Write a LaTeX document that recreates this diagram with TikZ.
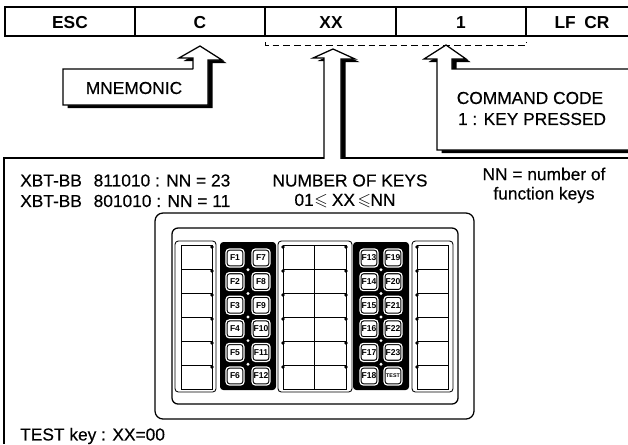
\documentclass[tikz,border=0pt]{standalone}
\usepackage{amsmath, amssymb}
\usepackage{fontspec}
\setmainfont{Liberation Sans}
\newfontfamily\scanfont[FakeBold=0.35]{Liberation Sans}
\usepackage{tikz}
\usetikzlibrary{calc, positioning}
\tikzset{
  frameline/.style={line width=0.95pt, black},
  panelline/.style={line width=0.65pt, black},
  cmdtext/.style={font=\fontsize{13}{15}\selectfont\bfseries, inner sep=0pt},
  plaintext/.style={font=\fontsize{13}{14}\selectfont\scanfont, inner sep=0pt},
  fkey/.style={draw=black, line width=0.8pt, double=white, double distance=0.9pt, fill=white,
    rounded corners=2.5pt, minimum size=13.5pt, inner sep=0pt,
    font=\fontsize{6.4}{7}\selectfont\bfseries},
}
\newcommand{\shadowarrow}[1]{
  \fill[black, shift={(4.5,3)}] #1 -- cycle;
  \fill[white] #1 -- cycle;
  \draw[frameline] #1;
}
\newcommand{\keypanel}[2]{
  \foreach \yk in {269,293,317,341,365} {
    \draw[panelline] (#1,\yk) -- (#2,\yk);
  }
}
\begin{document}
\begin{tikzpicture}[x=0.75pt, y=-0.75pt]
  \useasboundingbox (0,0) rectangle (628,444);
  \clip (0,0) rectangle (628,444);
  \fill[white] (0,0) rectangle (628,444);

  % command frame
  \draw[frameline] (628,7) -- (5,7) -- (5,36) -- (628,36);
  \foreach \xd in {135,265,396,526} {
    \draw[frameline] (\xd,7) -- (\xd,36);
  }
  \node[cmdtext] (esc) at (70,23) {ESC};
  \node[cmdtext] (c) at (200,23) {C};
  \node[cmdtext] (xx) at (331,23) {XX};
  \node[cmdtext] (one) at (461,23) {1};
  \node[cmdtext] (lfcr) at (582,23) {LF\hspace{0.5em}CR};
  \draw[panelline, dash pattern=on 5pt off 3pt] (265,42) -- (265,45) -- (526,45) -- (526,42);

  % lower frame
  \draw[frameline] (628,158) -- (4,158) -- (4,444);

  % arrows
  \shadowarrow{(193,69) -- (193,58) -- (179,58) -- (200,46) -- (222,60) -- (208,60) -- (208,105) -- (63,105) -- (63,69) -- (193,69)}
  \begin{scope}
    \clip (0,0) rectangle (628,158);
    \fill[black, shift={(4.5,3)}] (324,160) -- (324,58) -- (313,58) -- (333,49) -- (355,59) -- (341,59) -- (341,160) -- cycle;
    \fill[white] (324,160) -- (324,58) -- (313,58) -- (333,49) -- (355,59) -- (341,59) -- (341,160) -- cycle;
    \draw[frameline] (324,160) -- (324,58) -- (313,58) -- (333,49) -- (355,59) -- (341,59) -- (341,160);
  \end{scope}
  \shadowarrow{(640,69) -- (452,69) -- (452,59) -- (466,59) -- (446,45) -- (424,59) -- (437,59) -- (437,150) -- (640,150)}

  \node[plaintext] (mnemonic) at (134,88) {MNEMONIC};
  \node[plaintext] (command) at (530,98) {COMMAND CODE};
  \node[plaintext] (pressed) at (532,119) {1 : KEY PRESSED};

  % lower texts
  \node[plaintext, anchor=west] (bbone) at (20,180.5) {XBT-BB\hspace{0.4em} 811010 : NN = 23};
  \node[plaintext, anchor=west] (bbtwo) at (20,201) {XBT-BB\hspace{0.4em} 801010 : NN = 11};
  \node[plaintext] (numkeys) at (350,180.5) {NUMBER OF KEYS};
  \node[plaintext] (range) at (345,201) {01\hspace{0.5pt}$\leqslant$\hspace{3pt}XX\hspace{2pt}$\leqslant$\hspace{-0.5pt}NN};
  \node[plaintext] (nnone) at (544,174) {NN = number of};
  \node[plaintext] (nntwo) at (544,195) {function keys};
  \node[plaintext, anchor=west] (testkey) at (20,436) {TEST key : XX=00};

  % keypad housing
  \draw[frameline] (155,419) [rounded corners=6pt] -- (155,213) -- (474,213) -- (474,419) -- cycle;
  \draw[frameline] (172,404) [rounded corners=4.5pt] -- (172,228) -- (458,228) -- (458,404) -- cycle;

  % side panels
  \draw[panelline, fill=white, rounded corners=2.5pt] (175,241) rectangle (216,392);
  \draw[panelline] (181,245) rectangle (212,389);
  \keypanel{181}{212}
  \draw[panelline, fill=white, rounded corners=2.5pt] (278,241) rectangle (352,392);
  \draw[panelline] (283,245) rectangle (346,389);
  \draw[panelline] (314,245) -- (314,389);
  \keypanel{283}{346}
  \draw[panelline, fill=white, rounded corners=2.5pt] (412,241) rectangle (453,392);
  \draw[panelline] (417,245) rectangle (448,389);
  \keypanel{417}{448}
  \foreach \yk in {245,269,293,317,341,365} {
    \fill (212,\yk+2) circle (1.8);
    \fill (283,\yk+2) circle (1.8);
    \fill (346,\yk+2) circle (1.8);
    \fill (417,\yk+2) circle (1.8);
  }

  % function key blocks
  \fill[black, rounded corners=2.5pt] (220,242) rectangle (276,390);
  \fill[black, rounded corners=2.5pt] (353,242) rectangle (409,390);
  \foreach \yk [evaluate=\yk as \yd using \yk+11.8] in {258,281.6,305.2,328.8,352.4} {
    \fill[white] (248,\yd) circle (1.6);
    \fill[white] (381,\yd) circle (1.6);
  }
  \foreach \yk/\labA/\labB/\labC in {258/F1/F7/F13, 281.6/F2/F8/F14, 305.2/F3/F9/F15,
      328.8/F4/F10/F16, 352.4/F5/F11/F17, 376/F6/F12/F18} {
    \node[fkey] (key\labA) at (235,\yk) {\labA};
    \node[fkey] (key\labB) at (261,\yk) {\labB};
    \node[fkey] (key\labC) at (369,\yk) {\labC};
  }
  \foreach \yk/\labD in {258/F19, 281.6/F20, 305.2/F21, 328.8/F22, 352.4/F23} {
    \node[fkey] (key\labD) at (393,\yk) {\labD};
  }
  \node[fkey, font=\fontsize{4}{5}\selectfont\bfseries] (keytest) at (393,376) {TEST};
\end{tikzpicture}
\end{document}
